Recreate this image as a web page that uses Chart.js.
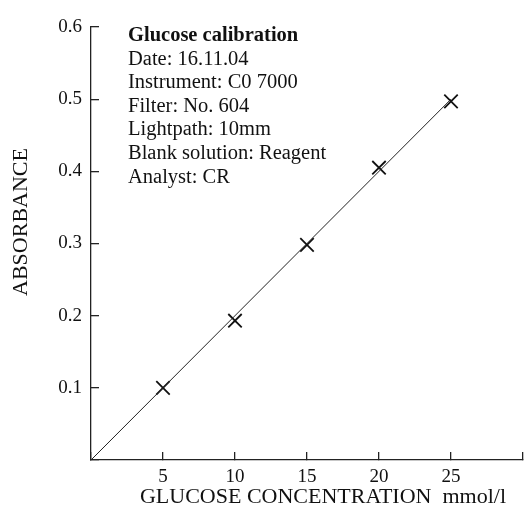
<!DOCTYPE html>
<html>
<head>
<meta charset="utf-8">
<script src="https://cdn.jsdelivr.net/npm/chart.js@4/dist/chart.umd.min.js"></script>
<style>
  html, body { margin: 0; padding: 0; background: #fff; }
  #wrap { width: 524px; height: 517px; }
</style>
</head>
<body>
<div id="wrap"><canvas id="c" width="524" height="517"></canvas></div>
<script>
// Calibration standards: concentration (mmol/l) and measured absorbance
const concentrations = [5, 10, 15, 20, 25];
const absorbances = [0.10, 0.193, 0.298, 0.405, 0.497];

// Calibration line through the origin
const fitX = [0, 25];
const fitY = [0, 0.5];

// Axis ranges and tick steps
const xRange = [0, 30];
const xStep = 5;
const yRange = [0, 0.6];
const yStep = 0.1;

// Notes printed in the upper-left of the plot
const noteTitle = 'Glucose calibration';
const noteLines = [
  'Date: 16.11.04',
  'Instrument: C0 7000',
  'Filter: No. 604',
  'Lightpath: 10mm',
  'Blank solution: Reagent',
  'Analyst: CR'
];

const xTitle = 'GLUCOSE CONCENTRATION  mmol/l';
const yTitle = 'ABSORBANCE';

const serif = "'Liberation Serif', 'Times New Roman', serif";
const ink = '#111';

// Notes block and axis titles
const textPlugin = {
  id: 'notesAndTitles',
  afterDatasetsDraw(chart) {
    const ctx = chart.ctx;
    const area = chart.chartArea;
    ctx.save();
    ctx.fillStyle = ink;
    ctx.textBaseline = 'alphabetic';
    ctx.textAlign = 'left';

    const left = area.left + 37;
    let y = area.top + 14;
    const step = 23.6;
    ctx.font = 'bold 20.5px ' + serif;
    ctx.fillText(noteTitle, left, y);
    ctx.font = '20.5px ' + serif;
    noteLines.forEach(t => { y += step; ctx.fillText(t, left, y); });

    // x-axis title
    ctx.font = '22px ' + serif;
    ctx.textAlign = 'center';
    ctx.fillText(xTitle, area.left + 232, area.bottom + 43);

    // y-axis title, rotated
    ctx.translate(27, area.top + 195);
    ctx.rotate(-Math.PI / 2);
    ctx.fillText(yTitle, 0, 0);
    ctx.restore();
  }
};

new Chart(document.getElementById('c'), {
  type: 'scatter',
  data: {
    datasets: [
      {
        data: fitX.map((x, i) => ({ x, y: fitY[i] })),
        showLine: true,
        borderColor: '#222',
        borderWidth: 1,
        pointRadius: 0,
        fill: false
      },
      {
        data: concentrations.map((x, i) => ({ x, y: absorbances[i] })),
        showLine: false,
        pointStyle: 'crossRot',
        pointRadius: 9.5,
        borderColor: ink,
        borderWidth: 1.8,
        backgroundColor: ink
      }
    ]
  },
  plugins: [textPlugin],
  options: {
    responsive: false,
    animation: false,
    layout: { autoPadding: false, padding: { left: 0, right: 1, top: 27, bottom: 0 } },
    plugins: { legend: { display: false }, tooltip: { enabled: false } },
    scales: {
      x: {
        type: 'linear',
        min: xRange[0], max: xRange[1],
        afterFit(s) { s.height = 57; s.paddingLeft = 0; s.paddingRight = 0; },
        border: { display: true, color: '#222', width: 1.3 },
        grid: { drawOnChartArea: false, drawTicks: true, tickLength: -8, color: '#222', lineWidth: 1.3 },
        ticks: {
          stepSize: xStep,
          padding: 14,
          maxRotation: 0,
          color: ink,
          font: { family: serif, size: 19 },
          callback: v => (v === xRange[0] || v === xRange[1]) ? '' : String(v)
        }
      },
      y: {
        type: 'linear',
        min: yRange[0], max: yRange[1],
        afterFit(s) { s.width = 91; s.paddingTop = 0; s.paddingBottom = 0; },
        border: { display: true, color: '#222', width: 1.3 },
        grid: { drawOnChartArea: false, drawTicks: true, tickLength: -8, color: '#222', lineWidth: 1.3 },
        ticks: {
          stepSize: yStep,
          padding: 17,
          color: ink,
          font: { family: serif, size: 19 },
          callback: v => v === 0 ? '' : v.toFixed(1)
        }
      }
    }
  }
});
</script>
</body>
</html>
